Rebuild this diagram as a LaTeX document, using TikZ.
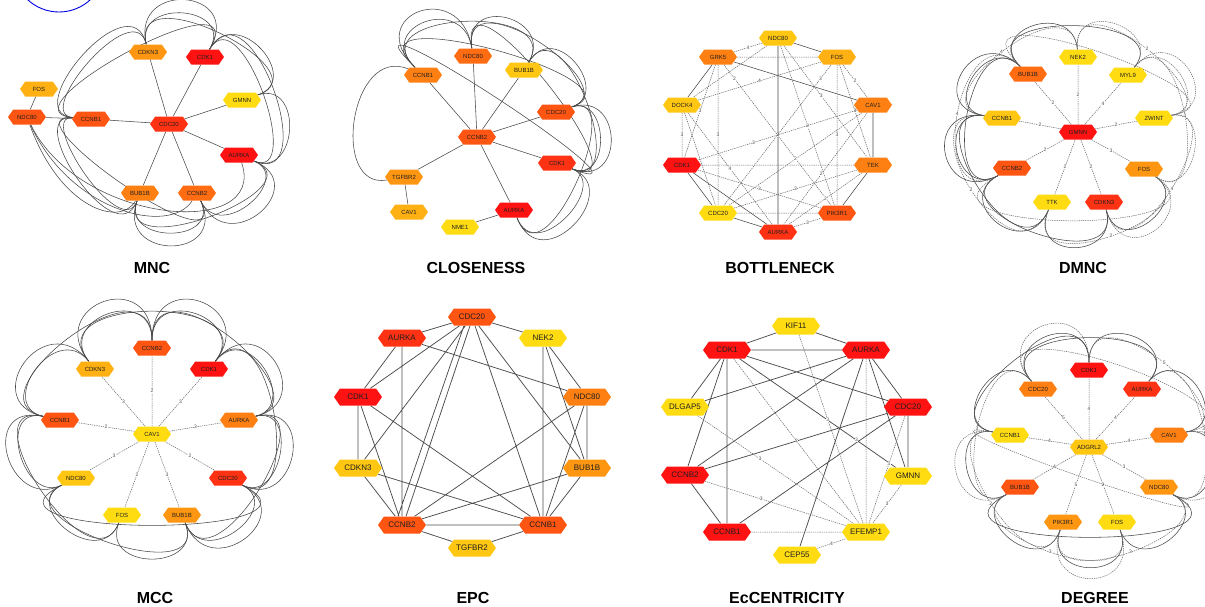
\documentclass[tikz,border=0pt]{standalone}
\usepackage{fontspec}
\setmainfont{Liberation Sans}
\usetikzlibrary{shapes.symbols,calc,backgrounds}
\definecolor{cR}{RGB}{255,18,18}
\definecolor{cRO}{RGB}{255,50,20}
\definecolor{cO1}{RGB}{255,85,18}
\definecolor{cO2}{RGB}{255,108,18}
\definecolor{cO3}{RGB}{255,128,18}
\definecolor{cO4}{RGB}{255,150,18}
\definecolor{cA}{RGB}{255,176,18}
\definecolor{cG}{RGB}{255,198,18}
\definecolor{cY}{RGB}{255,220,18}
\tikzset{
 hx/.style={shape=signal, signal to=east and west, signal pointer angle=110, fill=#1, draw=none,
   minimum width=38pt, minimum height=15pt, inner sep=0pt, font=\fontsize{6}{7}\selectfont, text=black!88},
 hxb/.style={hx=#1, minimum width=48pt, minimum height=17pt, font=\fontsize{8}{9}\selectfont},
 lk/.style={draw=black!72, line width=0.55pt},
 lkb/.style={draw=black!70, line width=0.75pt},
 dl/.style={draw=black!60, line width=0.5pt, dash pattern=on 1.3pt off 0.9pt},
 lb/.style={font=\fontsize{5}{5}\selectfont, text=black!70, fill=white, inner sep=0.3pt},
 ttl/.style={font=\bfseries\fontsize{16}{16}\selectfont}
}
\newcommand\pet[5][lk]{\draw[#1] (#3) .. controls ($(#2)!#5!(#3)$) and ($(#2)!#5!(#4)$) .. (#4);}
\newcommand\petl[6][dl]{\draw[#1] (#3) .. controls ($(#2)!#5!(#3)$) and ($(#2)!#5!(#4)$) .. node[lb]{#6} (#4);}
\begin{document}
\begin{tikzpicture}[x=1pt,y=1pt]
\useasboundingbox (0,0) rectangle (1205,-606);
\draw[blue!90!black, line width=0.9pt] (59,34) circle (46);

% ================= MNC =================
\coordinate (a0) at (165,-125);
\node[hx=cO4] (aCDKN3) at (148,-52) {CDKN3};
\node[hx=cR] (aCDK1) at (205,-57) {CDK1};
\node[hx=cA] (aFOS) at (39,-89) {FOS};
\node[hx=cY] (aGMNN) at (242,-100) {GMNN};
\node[hx=cO1] (aNDC80) at (27,-117) {NDC80};
\node[hx=cO1] (aCCNB1) at (91,-119) {CCNB1};
\node[hx=cRO] (aCDC20) at (169,-124) {CDC20};
\node[hx=cR] (aAURKA) at (239,-155) {AURKA};
\node[hx=cO3] (aBUB1B) at (140,-193) {BUB1B};
\node[hx=cO2] (aCCNB2) at (197,-193) {CCNB2};
\node[ttl] (aT) at (152,-268) {MNC};
\begin{pgfonlayer}{background}
\draw[lk] (aFOS)--(aNDC80) (aNDC80)--(aCCNB1) (aCCNB1)--(aCDC20) (aCDKN3)--(aCDC20) (aCDK1)--(aCDC20)
 (aGMNN)--(aCDC20) (aAURKA)--(aCDC20) (aBUB1B)--(aCDC20) (aCCNB2)--(aCDC20);
\pet{a0}{aCCNB1}{aCDKN3}{1.8}
\pet{a0}{aCCNB1}{aCDKN3}{2.0}
\pet{a0}{aCCNB1}{aCDK1}{2.3}
\pet{a0}{aCDKN3}{aCDK1}{1.75}
\pet{a0}{aCDKN3}{aCDK1}{2.0}
\pet{a0}{aCDKN3}{aGMNN}{2.1}
\pet{a0}{aCDK1}{aGMNN}{1.8}
\pet{a0}{aCDK1}{aAURKA}{1.9}
\pet{a0}{aCDK1}{aAURKA}{2.15}
\pet{a0}{aGMNN}{aAURKA}{1.8}
\pet{a0}{aCCNB1}{aBUB1B}{1.75}
\pet{a0}{aCCNB1}{aBUB1B}{1.95}
\pet{a0}{aCCNB1}{aCCNB2}{2.2}
\pet{a0}{aBUB1B}{aCCNB2}{1.75}
\pet{a0}{aBUB1B}{aCCNB2}{2.0}
\pet{a0}{aCCNB2}{aAURKA}{1.75}
\pet{a0}{aCCNB2}{aAURKA}{2.0}
\pet{a0}{aBUB1B}{aAURKA}{2.1}
\draw[lk] (aNDC80) .. controls (60,-208) and (120,-228) .. (aBUB1B);
\draw[lk] (aNDC80) .. controls (70,-212) and (170,-236) .. (aCCNB2);
\draw[lk] (aNDC80) .. controls (80,-225) and (268,-240) .. (aAURKA);
\end{pgfonlayer}

% ================= CLOSENESS =================
\coordinate (b0) at (485,-135);
\node[hx=cO2] (bNDC80) at (473,-56) {NDC80};
\node[hx=cO3] (bCCNB1) at (423,-75) {CCNB1};
\node[hx=cG] (bBUB1B) at (524,-70) {BUB1B};
\node[hx=cO1] (bCDC20) at (556,-112) {CDC20};
\node[hx=cO1] (bCCNB2) at (477,-137) {CCNB2};
\node[hx=cRO] (bCDK1) at (557,-163) {CDK1};
\node[hx=cO4] (bTGFBR2) at (404,-177) {TGFBR2};
\node[hx=cA] (bCAV1) at (409,-212) {CAV1};
\node[hx=cR] (bAURKA) at (514,-210) {AURKA};
\node[hx=cY] (bNME1) at (460,-227) {NME1};
\node[ttl] (bT) at (476,-268) {CLOSENESS};
\begin{pgfonlayer}{background}
\draw[lk] (bCCNB2)--(bCCNB1) (bCCNB2)--(bNDC80) (bCCNB2)--(bBUB1B) (bCCNB2)--(bCDC20) (bCCNB2)--(bCDK1)
 (bCCNB2)--(bTGFBR2) (bCCNB2)--(bAURKA) (bTGFBR2)--(bCAV1) (bAURKA)--(bNME1);
\draw[lk] (bCCNB1) .. controls (350,-45) and (330,-190) .. (bTGFBR2);
\pet{b0}{bCCNB1}{bNDC80}{1.8}
\pet{b0}{bCCNB1}{bNDC80}{2.0}
\pet{b0}{bCCNB1}{bBUB1B}{2.05}
\pet{b0}{bCCNB1}{bCDC20}{2.35}
\pet{b0}{bCCNB1}{bCDK1}{2.7}
\pet{b0}{bNDC80}{bBUB1B}{1.8}
\pet{b0}{bNDC80}{bCDC20}{2.05}
\pet{b0}{bNDC80}{bCDK1}{2.35}
\pet{b0}{bBUB1B}{bCDC20}{1.8}
\pet{b0}{bBUB1B}{bCDK1}{2.05}
\pet{b0}{bCDC20}{bCDK1}{1.75}
\pet{b0}{bCDC20}{bCDK1}{1.95}
\pet{b0}{bCDC20}{bAURKA}{2.05}
\pet{b0}{bCDK1}{bAURKA}{1.75}
\pet{b0}{bCDK1}{bAURKA}{1.95}
\end{pgfonlayer}

% ================= BOTTLENECK =================
\node[hx=cG] (cNDC80) at (778,-38) {NDC80};
\node[hx=cO3] (cGRK5) at (718,-57) {GRK5};
\node[hx=cA] (cFOS) at (837,-57) {FOS};
\node[hx=cG] (cDOCK4) at (682,-105) {DOCK4};
\node[hx=cO3] (cCAV1) at (873,-105) {CAV1};
\node[hx=cR] (cCDK1) at (682,-165) {CDK1};
\node[hx=cO3] (cTEK) at (873,-165) {TEK};
\node[hx=cY] (cCDC20) at (718,-213) {CDC20};
\node[hx=cO1] (cPIK3R1) at (837,-213) {PIK3R1};
\node[hx=cRO] (cAURKA) at (778,-232) {AURKA};
\node[ttl] (cT) at (780,-268) {BOTTLENECK};
\begin{pgfonlayer}{background}
\draw[lk] (cNDC80)--(cFOS) (cNDC80)--node[lb]{3}(cAURKA) (cGRK5)--(cCAV1) (cGRK5)--(cDOCK4) (cCAV1)--(cTEK)
 (cTEK)--(cPIK3R1) (cCDK1)--(cAURKA) (cCDK1)--(cCDC20) (cCDC20)--(cAURKA);
\draw[dl] (cNDC80)--node[lb]{4}(cGRK5);
\draw[dl] (cGRK5)--(cFOS);
\draw[dl] (cGRK5)--node[lb]{3}(cCDC20);
\draw[dl] (cGRK5)--node[lb]{3}(cCDK1);
\draw[dl] (cGRK5)--node[lb,pos=0.1]{2}(cPIK3R1);
\draw[dl] (cFOS)--node[lb]{4}(cDOCK4);
\draw[dl] (cFOS)--node[lb]{2}(cCAV1);
\draw[dl] (cFOS)--node[lb]{3}(cPIK3R1);
\draw[dl] (cFOS)--node[lb,pos=0.5]{3}(cTEK);
\draw[dl] (cFOS)--node[lb,pos=0.1]{3}(cCDC20);
\draw[dl] (cNDC80)--node[lb,pos=0.45]{3}(cTEK);
\draw[dl] (cNDC80)--node[lb]{2}(cPIK3R1);
\draw[dl] (cNDC80)--(cDOCK4);
\draw[dl] (cDOCK4)--node[lb]{3}(cCDK1);
\draw[dl] (cDOCK4)--node[lb]{4}(cAURKA);
\draw[dl] (cDOCK4)--(cCDC20);
\draw[dl] (cCAV1)--node[lb,pos=0.65]{3}(cCDK1);
\draw[dl] (cCAV1)--node[lb]{2}(cCDC20);
\draw[dl] (cCAV1)--node[lb,pos=0.55]{2}(cAURKA);
\draw[dl] (cCDK1)--(cTEK);
\draw[dl] (cCDK1)--node[lb]{3}(cPIK3R1);
\draw[dl] (cTEK)--node[lb]{3}(cCDC20);
\draw[dl] (cTEK)--node[lb]{2}(cAURKA);
\draw[dl] (cCDC20)--(cPIK3R1);
\draw[dl] (cAURKA)--node[lb]{3}(cPIK3R1);
\end{pgfonlayer}

% ================= DMNC =================
\coordinate (d0) at (1084,-129);
\node[hx=cY] (dNEK2) at (1078,-57) {NEK2};
\node[hx=cO2] (dBUB1B) at (1028,-74) {BUB1B};
\node[hx=cY] (dMYL9) at (1128,-75) {MYL9};
\node[hx=cG] (dCCNB1) at (1002,-118) {CCNB1};
\node[hx=cY] (dZWINT) at (1154,-118) {ZWINT};
\node[hx=cR] (dGMNN) at (1078,-132) {GMNN};
\node[hx=cO1] (dCCNB2) at (1012,-168) {CCNB2};
\node[hx=cO4] (dFOS) at (1144,-169) {FOS};
\node[hx=cY] (dTTK) at (1052,-202) {TTK};
\node[hx=cRO] (dCDKN3) at (1104,-202) {CDKN3};
\node[ttl] (dT) at (1083,-268) {DMNC};
\begin{pgfonlayer}{background}
\draw[dl] (dGMNN)--node[lb]{2}(dBUB1B);
\draw[dl] (dGMNN)--node[lb]{2}(dNEK2);
\draw[dl] (dGMNN)--node[lb]{4}(dMYL9);
\draw[dl] (dGMNN)--node[lb]{2}(dCCNB1);
\draw[dl] (dGMNN)--node[lb]{2}(dZWINT);
\draw[dl] (dGMNN)--node[lb]{2}(dCCNB2);
\draw[dl] (dGMNN)--node[lb]{3}(dFOS);
\draw[dl] (dGMNN)--node[lb]{2}(dTTK);
\draw[dl] (dGMNN)--node[lb]{2}(dCDKN3);
\pet{d0}{dBUB1B}{dNEK2}{1.8}
\pet{d0}{dBUB1B}{dCCNB1}{1.75}
\pet{d0}{dBUB1B}{dCCNB1}{1.95}
\pet{d0}{dBUB1B}{dCCNB2}{2.05}
\pet{d0}{dCCNB1}{dCCNB2}{1.8}
\pet{d0}{dCCNB1}{dCCNB2}{2.0}
\pet{d0}{dCCNB2}{dTTK}{1.85}
\pet{d0}{dCCNB2}{dCDKN3}{2.1}
\pet{d0}{dTTK}{dCDKN3}{1.8}
\pet{d0}{dCDKN3}{dFOS}{1.8}
\pet{d0}{dBUB1B}{dMYL9}{2.15}
\pet{d0}{dCCNB1}{dTTK}{2.1}
\pet[dl]{d0}{dNEK2}{dMYL9}{1.85}
\pet[dl]{d0}{dMYL9}{dZWINT}{1.85}
\pet[dl]{d0}{dMYL9}{dZWINT}{2.05}
\pet[dl]{d0}{dZWINT}{dFOS}{1.85}
\petl{d0}{dMYL9}{dFOS}{2.2}{3}
\petl{d0}{dNEK2}{dZWINT}{2.2}{2}
\petl{d0}{dFOS}{dTTK}{2.15}{2}
\pet[dl]{d0}{dFOS}{dCDKN3}{2.0}
\petl{d0}{dCCNB1}{dNEK2}{2.1}{4}
\petl{d0}{dCDKN3}{dZWINT}{2.2}{4}
\petl{d0}{dCCNB2}{dBUB1B}{2.25}{4}
\petl{d0}{dTTK}{dCCNB1}{2.25}{2}
\pet[dl]{d0}{dBUB1B}{dZWINT}{2.7}
\pet[dl]{d0}{dFOS}{dCCNB2}{2.7}
\end{pgfonlayer}

% ================= MCC =================
\coordinate (e0) at (152,-440);
\node[hx=cO1] (eCCNB2) at (152,-348) {CCNB2};
\node[hx=cA] (eCDKN3) at (95,-369) {CDKN3};
\node[hx=cR] (eCDK1) at (209,-369) {CDK1};
\node[hx=cO1] (eCCNB1) at (60,-420) {CCNB1};
\node[hx=cO3] (eAURKA) at (239,-420) {AURKA};
\node[hx=cY] (eCAV1) at (152,-434) {CAV1};
\node[hx=cG] (eNDC80) at (76,-478) {NDC80};
\node[hx=cRO] (eCDC20) at (228,-478) {CDC20};
\node[hx=cY] (eFOS) at (122,-515) {FOS};
\node[hx=cO4] (eBUB1B) at (182,-515) {BUB1B};
\node[ttl] (eT) at (155,-598) {MCC};
\begin{pgfonlayer}{background}
\draw[dl] (eCAV1)--node[lb]{3}(eCDKN3);
\draw[dl] (eCAV1)--node[lb]{2}(eCCNB2);
\draw[dl] (eCAV1)--node[lb]{3}(eCDK1);
\draw[dl] (eCAV1)--node[lb]{2}(eCCNB1);
\draw[dl] (eCAV1)--node[lb]{3}(eAURKA);
\draw[dl] (eCAV1)--node[lb]{3}(eNDC80);
\draw[dl] (eCAV1)--node[lb]{2}(eCDC20);
\draw[dl] (eCAV1)--node[lb]{2}(eFOS);
\draw[dl] (eCAV1)--node[lb]{3}(eBUB1B);
\pet{e0}{eCDKN3}{eCCNB2}{1.7}
\pet{e0}{eCDKN3}{eCCNB2}{1.9}
\pet{e0}{eCCNB2}{eCDK1}{1.7}
\pet{e0}{eCCNB2}{eCDK1}{1.9}
\pet{e0}{eCDKN3}{eCDK1}{2.05}
\pet{e0}{eCDKN3}{eCCNB1}{1.7}
\pet{e0}{eCDKN3}{eCCNB1}{1.9}
\pet{e0}{eCDK1}{eAURKA}{1.7}
\pet{e0}{eCDK1}{eAURKA}{1.9}
\pet{e0}{eCCNB1}{eNDC80}{1.7}
\pet{e0}{eCCNB1}{eNDC80}{1.9}
\pet{e0}{eAURKA}{eCDC20}{1.7}
\pet{e0}{eAURKA}{eCDC20}{1.9}
\pet{e0}{eNDC80}{eFOS}{1.75}
\pet{e0}{eNDC80}{eBUB1B}{2.05}
\pet{e0}{eBUB1B}{eCDC20}{1.75}
\pet{e0}{eBUB1B}{eCDC20}{1.95}
\pet{e0}{eFOS}{eBUB1B}{1.75}
\pet{e0}{eCCNB1}{eCCNB2}{2.05}
\pet{e0}{eCCNB2}{eAURKA}{2.05}
\pet{e0}{eCDC20}{eCDK1}{2.05}
\pet{e0}{eNDC80}{eCDC20}{2.6}
\pet{e0}{eCCNB1}{eFOS}{2.05}
\pet{e0}{eAURKA}{eBUB1B}{2.05}
\end{pgfonlayer}

% ================= EPC =================
\node[hxb=cO1] (fCDC20) at (472,-317) {CDC20};
\node[hxb=cRO] (fAURKA) at (402,-338) {AURKA};
\node[hxb=cY] (fNEK2) at (543,-338) {NEK2};
\node[hxb=cR] (fCDK1) at (358,-397) {CDK1};
\node[hxb=cO3] (fNDC80) at (587,-397) {NDC80};
\node[hxb=cG] (fCDKN3) at (358,-468) {CDKN3};
\node[hxb=cO4] (fBUB1B) at (587,-468) {BUB1B};
\node[hxb=cO1] (fCCNB2) at (402,-525) {CCNB2};
\node[hxb=cO1] (fCCNB1) at (543,-525) {CCNB1};
\node[hxb=cG] (fTGFBR2) at (472,-548) {TGFBR2};
\node[ttl] (fT) at (473,-598) {EPC};
\begin{pgfonlayer}{background}
\draw[lkb] (fCDC20)--(fAURKA) (fCDC20)--(fNEK2) (fCDC20)--(fCDK1) (fCDC20)--(fCDKN3)
 ([xshift=-8pt]fCDC20.south)--([xshift=-4pt]fCCNB2.north) ([xshift=-2pt]fCDC20.south)--([xshift=4pt]fCCNB2.north)
 (fCDC20)--(fCCNB1) (fCDC20)--(fBUB1B)
 (fAURKA)--(fCDK1) (fAURKA)--(fCCNB2) (fAURKA)--(fNDC80)
 (fNEK2)--(fNDC80) (fNEK2)--(fBUB1B) (fNEK2)--(fCCNB1)
 (fCDK1)--(fCDKN3) (fCDK1)--(fCCNB2) (fCDK1)--(fCCNB1)
 (fNDC80)--(fBUB1B) (fNDC80)--(fCCNB2) (fNDC80)--(fCCNB1)
 (fCDKN3)--(fCCNB2) (fCDKN3)--(fCCNB1)
 (fBUB1B)--(fCCNB2) (fBUB1B)--(fCCNB1)
 (fCCNB2)--(fCCNB1) (fCCNB2)--(fTGFBR2) (fCCNB1)--(fTGFBR2);
\end{pgfonlayer}

% ================= EcCENTRICITY =================
\node[hxb=cY] (gKIF11) at (796,-326) {KIF11};
\node[hxb=cR] (gCDK1) at (727,-350) {CDK1};
\node[hxb=cR] (gAURKA) at (866,-350) {AURKA};
\node[hxb=cY] (gDLGAP5) at (685,-407) {DLGAP5};
\node[hxb=cR] (gCDC20) at (908,-407) {CDC20};
\node[hxb=cR] (gCCNB2) at (685,-475) {CCNB2};
\node[hxb=cY] (gGMNN) at (908,-476) {GMNN};
\node[hxb=cR] (gCCNB1) at (727,-532) {CCNB1};
\node[hxb=cY] (gEFEMP1) at (866,-532) {EFEMP1};
\node[hxb=cY] (gCEP55) at (797,-555) {CEP55};
\node[ttl] (gT) at (787,-598) {EcCENTRICITY};
\begin{pgfonlayer}{background}
\draw[lkb] (gKIF11)--(gCDK1) (gKIF11)--(gAURKA) (gCDK1)--(gAURKA) (gCDK1)--(gDLGAP5) (gCDK1)--(gCCNB2)
 (gCDK1)--(gCCNB1) (gCDK1)--(gCDC20) (gCDK1)--node[lb,pos=0.75]{3}(gGMNN)
 (gAURKA)--(gDLGAP5) (gAURKA)--(gCCNB2) (gAURKA)--(gCDC20) (gAURKA)--(gGMNN) (gAURKA)--(gCEP55)
 (gCDC20)--node[lb,pos=0.5]{2}(gCCNB2) (gCDC20)--(gCCNB1) (gCDC20)--(gGMNN) (gCCNB2)--(gCCNB1);
\draw[dl] (gKIF11)--node[lb,pos=0.45]{3}(gEFEMP1);
\draw[dl] (gCDK1)--(gEFEMP1);
\draw[dl] (gDLGAP5)--node[lb,pos=0.4]{3}(gEFEMP1);
\draw[dl] (gCCNB2)--node[lb,pos=0.4]{3}(gEFEMP1);
\draw[dl] (gCCNB1)--(gEFEMP1);
\draw[dl] (gAURKA)--(gEFEMP1);
\draw[dl] (gCDC20)--node[lb,pos=0.45]{3}(gEFEMP1);
\draw[dl] (gGMNN)--node[lb]{3}(gEFEMP1);
\draw[dl] (gCEP55)--node[lb]{4}(gEFEMP1);
\end{pgfonlayer}

% ================= DEGREE =================
\coordinate (h0) at (1089,-449);
\node[hx=cR] (hCDK1) at (1089,-370) {CDK1};
\node[hx=cO3] (hCDC20) at (1038,-389) {CDC20};
\node[hx=cRO] (hAURKA) at (1142,-389) {AURKA};
\node[hx=cY] (hCCNB1) at (1010,-435) {CCNB1};
\node[hx=cO3] (hCAV1) at (1169,-435) {CAV1};
\node[hx=cG] (hADGRL2) at (1089,-447) {ADGRL2};
\node[hx=cO1] (hBUB1B) at (1020,-487) {BUB1B};
\node[hx=cO4] (hNDC80) at (1159,-487) {NDC80};
\node[hx=cO4] (hPIK3R1) at (1063,-522) {PIK3R1};
\node[hx=cY] (hFOS) at (1117,-522) {FOS};
\node[ttl] (hT) at (1095,-598) {DEGREE};
\begin{pgfonlayer}{background}
\draw[dl] (hADGRL2)--node[lb]{4}(hCDK1);
\draw[dl] (hADGRL2)--node[lb]{5}(hCDC20);
\draw[dl] (hADGRL2)--node[lb]{4}(hAURKA);
\draw[dl] (hADGRL2)--node[lb]{4}(hCCNB1);
\draw[dl] (hADGRL2)--node[lb]{4}(hCAV1);
\draw[dl] (hADGRL2)--node[lb]{4}(hBUB1B);
\draw[dl] (hADGRL2)--node[lb]{3}(hNDC80);
\draw[dl] (hADGRL2)--node[lb]{5}(hPIK3R1);
\draw[dl] (hADGRL2)--node[lb]{2}(hFOS);
\pet{h0}{hCDC20}{hCDK1}{1.8}
\pet{h0}{hCDK1}{hAURKA}{1.8}
\pet{h0}{hCDC20}{hCCNB1}{1.8}
\pet{h0}{hCCNB1}{hBUB1B}{1.8}
\pet{h0}{hCAV1}{hAURKA}{1.8}
\pet{h0}{hCAV1}{hNDC80}{1.8}
\pet{h0}{hBUB1B}{hPIK3R1}{1.8}
\pet{h0}{hPIK3R1}{hFOS}{1.8}
\pet{h0}{hFOS}{hNDC80}{1.8}
\pet{h0}{hCDC20}{hAURKA}{2.1}
\pet{h0}{hCCNB1}{hCDK1}{2.15}
\pet{h0}{hBUB1B}{hNDC80}{2.7}
\petl{h0}{hCCNB1}{hPIK3R1}{2.1}{2}
\petl{h0}{hBUB1B}{hFOS}{2.1}{3}
\petl{h0}{hNDC80}{hPIK3R1}{2.1}{3}
\petl{h0}{hAURKA}{hNDC80}{2.1}{3}
\petl{h0}{hCDC20}{hBUB1B}{2.1}{3}
\petl{h0}{hCDK1}{hCAV1}{2.1}{5}
\pet[dl]{h0}{hCDC20}{hCDK1}{2.0}
\pet[dl]{h0}{hCAV1}{hNDC80}{2.0}
\pet[dl]{h0}{hPIK3R1}{hFOS}{2.0}
\pet[dl]{h0}{hCCNB1}{hBUB1B}{2.0}
\pet[dl]{h0}{hCDC20}{hCAV1}{2.6}
\pet[dl]{h0}{hCCNB1}{hNDC80}{2.6}
\end{pgfonlayer}
\end{tikzpicture}
\end{document}
